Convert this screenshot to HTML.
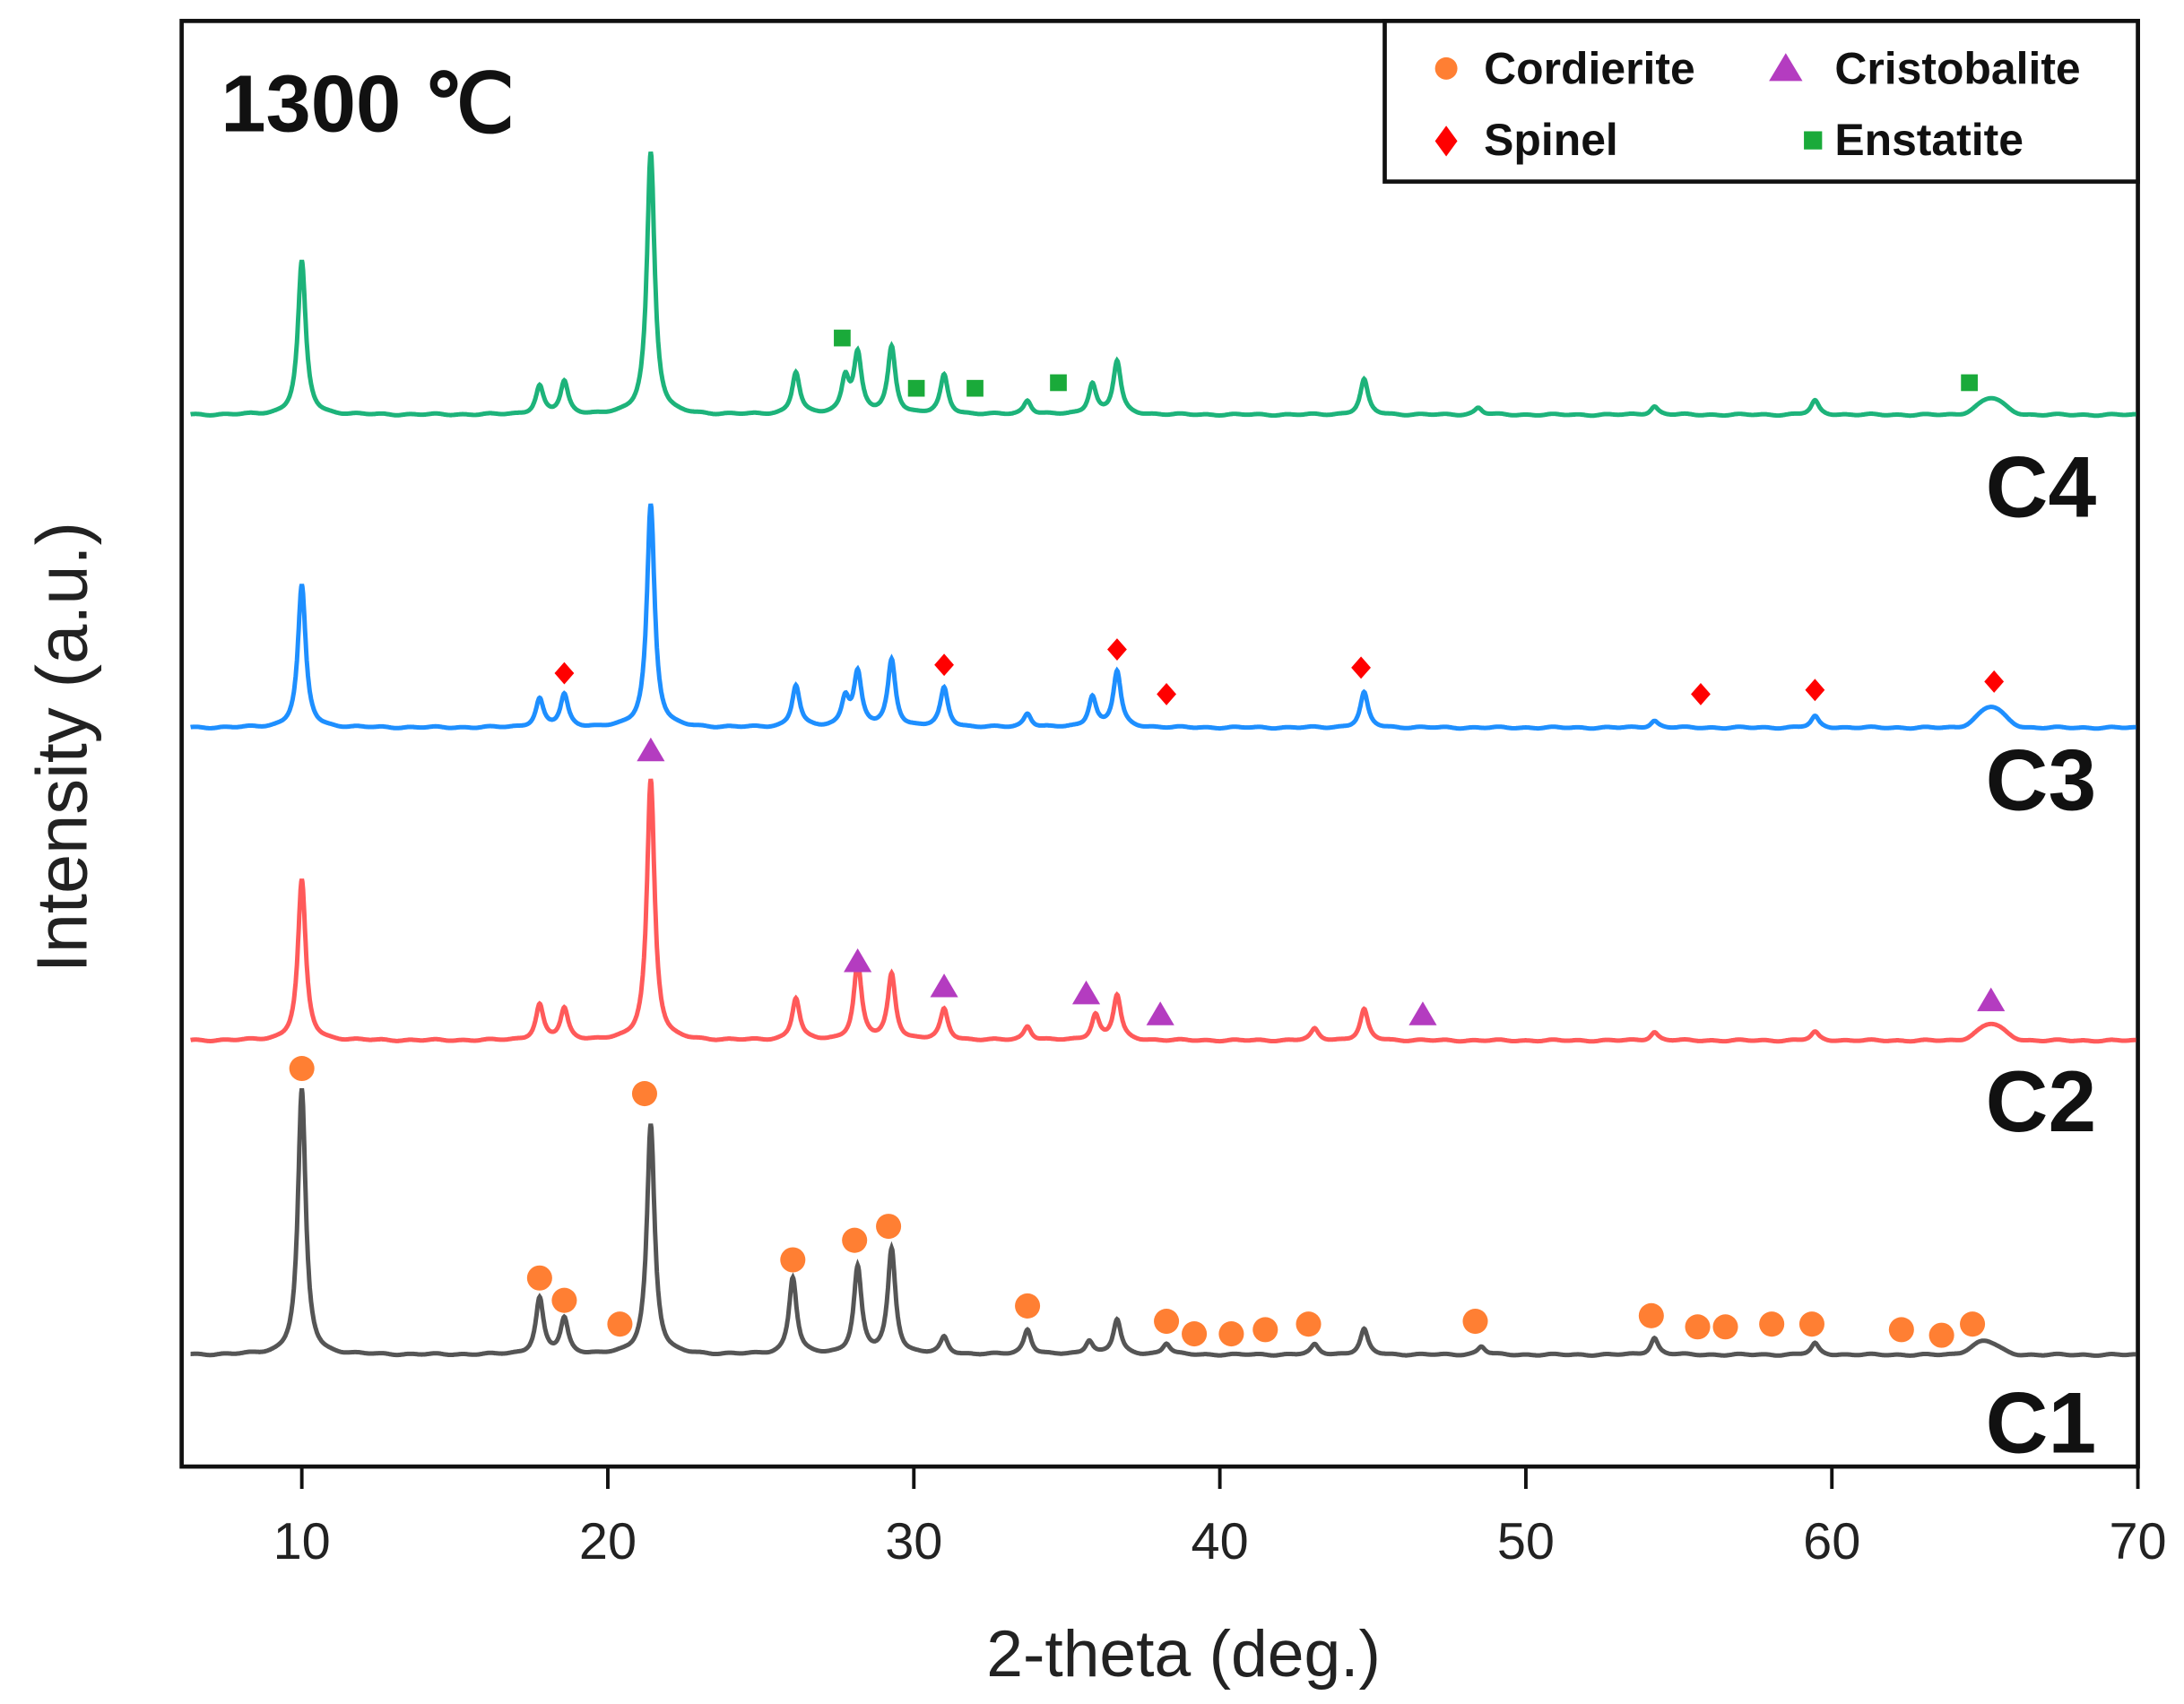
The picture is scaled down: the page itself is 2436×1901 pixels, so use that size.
<!DOCTYPE html>
<html><head><meta charset="utf-8"><style>html,body{margin:0;padding:0;background:#fff}svg{display:block}</style></head>
<body>
<svg id="s" width="2436" height="1901" viewBox="0 0 1563 1220" preserveAspectRatio="none" xmlns="http://www.w3.org/2000/svg" font-family="Liberation Sans, Arial, sans-serif">
<rect x="130" y="15" width="1400" height="1035" fill="none" stroke="#111" stroke-width="3"/>
<g id="ticks" stroke="#111" stroke-width="2.5"></g>
<g font-size="37" text-anchor="middle" fill="#222">
<text x="216" y="1116">10</text><text x="435" y="1116">20</text><text x="654" y="1116">30</text><text x="873" y="1116">40</text><text x="1092" y="1116">50</text><text x="1311" y="1116">60</text><text x="1530" y="1116">70</text>
</g>
<text x="847" y="1200" font-size="47" text-anchor="middle" fill="#222">2-theta (deg.)</text>
<text transform="translate(62,535) rotate(-90)" font-size="51" text-anchor="middle" fill="#222">Intensity (a.u.)</text>
<text x="158" y="94" font-size="58" font-weight="bold" fill="#111">1300 ℃</text>
<g font-size="62" font-weight="bold" fill="#111">
<text x="1421" y="370">C4</text><text x="1421" y="580">C3</text><text x="1421" y="810">C2</text><text x="1421" y="1040">C1</text>
</g>
<rect x="991" y="15" width="539" height="115" fill="#fff" stroke="#111" stroke-width="3"/>
<circle cx="1035" cy="49" r="8" fill="#ff7f33"/>
<polygon points="1278,38 1290,58 1266,58" fill="#b43cc0"/>
<polygon points="1035,90 1043,101 1035,112 1027,101" fill="#ff0000"/>
<rect x="1291" y="94" width="13" height="13" fill="#1aaa3a"/>
<g font-size="32" font-weight="bold" fill="#111">
<text x="1062" y="60">Cordierite</text><text x="1313" y="60">Cristobalite</text>
<text x="1062" y="111">Spinel</text><text x="1313" y="111">Enstatite</text>
</g>
<g id="series"></g>
<g id="marks"></g>
</svg>
<script>
var X=function(d){return 216+(d-10)*21.9;};
var XD=function(d){return 216+(d-10.5)*22.1;};
var ns="http://www.w3.org/2000/svg";
var t=document.getElementById('ticks');
for(var d=10;d<=70;d+=10){var l=document.createElementNS(ns,'line');l.setAttribute('x1',X(d));l.setAttribute('x2',X(d));l.setAttribute('y1',1050);l.setAttribute('y2',1066);t.appendChild(l);}
var S=[
{c:'#555555',b:970,p:[[10.5,190],[18.2,40],[19,25],[21.8,165],[26.4,55],[28.5,62],[29.6,75],[31.3,12],[34,18],[36,10],[36.9,25],[38.5,8],[43.3,7],[44.9,18],[48.7,6],[54.3,12],[59.5,8]],br:[[65,10]]},
{c:'#ff5a5a',b:745,p:[[10.5,115],[18.2,25],[19,22],[21.8,187],[26.5,30],[28.5,55],[29.6,47],[31.3,22],[34,10],[36.2,18],[36.9,32],[43.3,8],[44.9,22],[54.3,6],[59.5,6]],br:[[65.2,12]]},
{c:'#1e8fff',b:521,p:[[10.5,102],[18.2,20],[19,23],[21.8,160],[26.5,30],[28.1,20],[28.5,38],[29.6,48],[31.3,28],[34,10],[36.1,22],[36.9,40],[44.9,25],[54.3,5],[59.5,8]],br:[[65.2,15]]},
{c:'#1db37a',b:297,p:[[10.5,110],[18.2,20],[19,23],[21.8,188],[26.5,30],[28.1,25],[28.5,42],[29.6,48],[31.3,28],[34,10],[36.1,22],[36.9,38],[44.9,25],[48.6,5],[54.3,6],[59.5,10]],br:[[65.2,12]]}];
var g=document.getElementById('series');
S.forEach(function(s){var d='';for(var x=6.9;x<=70;x+=0.02){var y=0;s.p.forEach(function(p){var w=0.15;var u=(x-p[0])/w;y+=p[1]/(1+u*u);});s.br.forEach(function(p){var u=(x-p[0])/0.6;y+=p[1]*Math.exp(-u*u);});y+=Math.sin(x*7.3)*0.4+Math.sin(x*3.1)*0.3;var px=XD(x);if(px>1529)break;d+=(d?'L':'M')+px.toFixed(1)+','+(s.b-y).toFixed(1);}
var e=document.createElementNS(ns,'path');e.setAttribute('d',d);e.setAttribute('fill','none');e.setAttribute('stroke',s.c);e.setAttribute('stroke-width','3.2');g.appendChild(e);});
var m=document.getElementById('marks'),h='';
[[10.5,765],[18.2,915],[19,931],[20.8,948],[21.6,783],[26.4,902],[28.4,888],[29.5,878],[34,935],[38.5,946],[39.4,955],[40.6,955],[41.7,952],[43.1,948],[48.5,946],[54.2,942],[55.7,950],[56.6,950],[58.1,948],[59.4,948],[62.3,952],[63.6,956],[64.6,948]].forEach(function(p){h+='<circle cx="'+XD(p[0])+'" cy="'+p[1]+'" r="9" fill="#ff7f33"/>';});
[[21.8,537],[28.5,688],[31.3,706],[35.9,711],[38.3,726],[46.8,726],[65.2,716]].forEach(function(p){var x=XD(p[0]),y=p[1];h+='<polygon points="'+x+','+(y-9)+' '+(x+10)+','+(y+8)+' '+(x-10)+','+(y+8)+'" fill="#b43cc0"/>';});
[[19,482],[31.3,476],[36.9,465],[38.5,497],[44.8,478],[55.8,497],[59.5,494],[65.3,488]].forEach(function(p){var x=XD(p[0]),y=p[1];h+='<polygon points="'+x+','+(y-8)+' '+(x+7)+','+y+' '+x+','+(y+8)+' '+(x-7)+','+y+'" fill="#ff0000"/>';});
[[28,242],[30.4,278],[32.3,278],[35,274],[64.5,274]].forEach(function(p){h+='<rect x="'+(XD(p[0])-6)+'" y="'+(p[1]-6)+'" width="12" height="12" fill="#1aaa3a"/>';});
m.innerHTML=h;
</script>
</body></html>
